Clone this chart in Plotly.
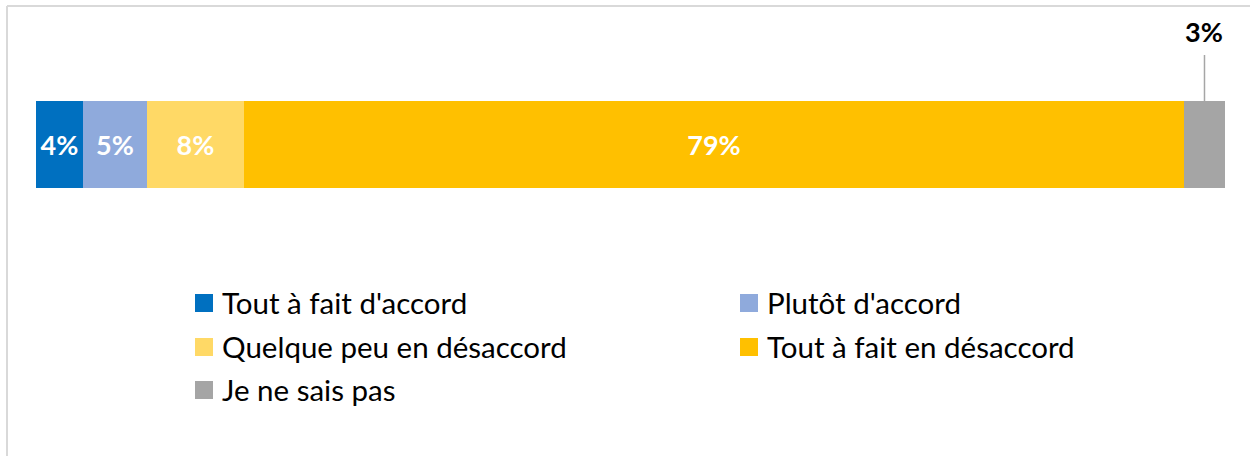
import plotly.graph_objects as go

categories = ["Tout à fait d'accord", "Plutôt d'accord", "Quelque peu en désaccord",
              "Tout à fait en désaccord", "Je ne sais pas"]
values = [3.95, 5.4, 8.15, 79.05, 3.45]
labels = ["4%", "5%", "8%", "79%", "3%"]
inside_label = [True, True, True, True, False]
colors = ["#0070C0", "#8FAADC", "#FFD966", "#FFC000", "#A5A5A5"]

W, H = 1250, 456
ML, MR, MT, MB = 36, 25, 101, 268
PW, PH = W - ML - MR, H - MT - MB
FONT = "Lato"

def px_x(p):
    return (p - ML) / PW

def px_y(p):
    return (H - MB - p) / PH

fig = go.Figure()
for cat, v, lab, ins, col in zip(categories, values, labels, inside_label, colors):
    fig.add_trace(go.Bar(
        x=[v], y=[0], orientation="h", name=cat,
        marker=dict(color=col, line=dict(width=0)),
        text=[lab if ins else ""], textposition="inside",
        insidetextanchor="middle", constraintext="none",
        textfont=dict(family=FONT, size=27, color="white", weight="bold"),
        hoverinfo="skip", showlegend=False, width=1,
    ))

annotations = []
cum = 0
for v, lab, ins in zip(values, labels, inside_label):
    if not ins:
        annotations.append(dict(
            x=cum + v / 2, y=0.5, xref="x", yref="y", text=f"<b>{lab}</b>",
            showarrow=True, arrowhead=0, arrowwidth=1.5, arrowcolor="#A6A6A6",
            ax=0, ay=-70, startstandoff=6,
            font=dict(family=FONT, size=27, color="black"),
        ))
    cum += v

shapes = []
col_x = [195, 740]
row_y = [303, 347, 390]
sq = 18
for i, (cat, col) in enumerate(zip(categories, colors)):
    cx = col_x[i % 2]
    cy = row_y[i // 2]
    shapes.append(dict(type="rect", xref="paper", yref="paper",
                       x0=px_x(cx), x1=px_x(cx + sq),
                       y0=px_y(cy + sq / 2), y1=px_y(cy - sq / 2),
                       fillcolor=col, line=dict(width=0)))
    annotations.append(dict(x=px_x(cx + sq + 7), y=px_y(cy - 1), xref="paper", yref="paper",
                            text=cat, showarrow=False, xanchor="left", yanchor="middle",
                            font=dict(family=FONT, size=29.5, color="black")))

shapes.append(dict(type="line", xref="paper", yref="paper",
                   x0=px_x(7), x1=px_x(W + 5), y0=px_y(6), y1=px_y(6),
                   line=dict(color="#D9D9D9", width=2)))
shapes.append(dict(type="line", xref="paper", yref="paper",
                   x0=px_x(7), x1=px_x(7), y0=px_y(6), y1=px_y(H + 5),
                   line=dict(color="#D9D9D9", width=2)))

fig.update_layout(
    width=W, height=H, barmode="stack", bargap=0,
    margin=dict(l=ML, r=MR, t=MT, b=MB, autoexpand=False),
    paper_bgcolor="white", plot_bgcolor="white",
    xaxis=dict(range=[0, sum(values)], visible=False, fixedrange=True),
    yaxis=dict(range=[-0.5, 0.5], visible=False, fixedrange=True),
    annotations=annotations, shapes=shapes, showlegend=False,
)

fig.write_html("out.html", config={"displayModeBar": False},
               post_script="document.body.style.margin='0';document.body.style.overflow='hidden';")
